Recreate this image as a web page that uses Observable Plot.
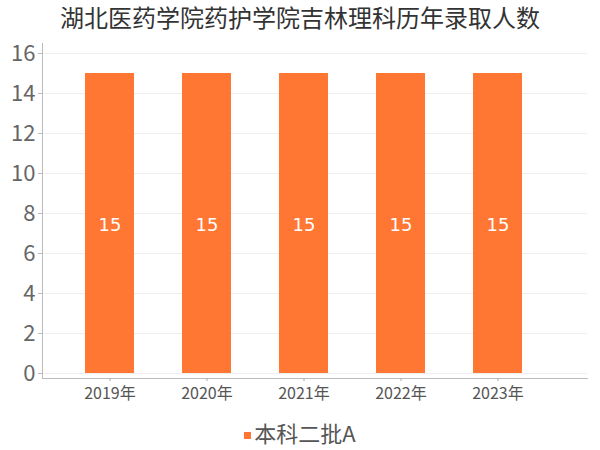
<!DOCTYPE html>
<html><head><meta charset="utf-8">
<script src="https://cdn.jsdelivr.net/npm/d3@7"></script>
<script src="https://cdn.jsdelivr.net/npm/@observablehq/plot@0.6"></script>
<style>
body{margin:0;background:#fff;font-family:"Noto Sans CJK SC",sans-serif;}
#wrap{width:600px;height:450px;position:relative;overflow:hidden;}
#title{height:36px;line-height:34px;text-align:center;font-size:24px;color:#333;}
#legend{position:absolute;top:417px;left:0;width:600px;text-align:center;font-size:22px;color:#555;line-height:30px;}
#legend .sw{display:inline-block;width:7px;height:7px;background:#ff7733;margin-right:3px;vertical-align:middle;position:relative;top:-1px;}
#chart{position:absolute;top:36px;left:0;}
</style></head>
<body><div id="wrap"><div id="title">湖北医药学院药护学院吉林理科历年录取人数</div><div id="chart"></div><div id="legend"><span class="sw"></span>本科二批A</div></div>
<script>
const years = ["2019年","2020年","2021年","2022年","2023年"];
const counts = [15,15,15,15,15];
const series = "本科二批A";
const yTicks = [0,2,4,6,8,10,12,14,16];
const data = years.map((y,i)=>({year:y, value:counts[i], series}));
const chart = Plot.plot({
  width:600, height:380,
  marginLeft:42, marginRight:13, marginTop:7, marginBottom:38,
  style:{fontFamily:"'Noto Sans CJK SC',sans-serif", background:"transparent"},
  x:{domain:years, range:[59,547], paddingInner:0.5, paddingOuter:0.25, label:null},
  y:{domain:[0,16], range:[337,17], label:null},
  marks:[
    Plot.gridY(yTicks,{stroke:"#eeeeee", strokeOpacity:1}),
    Plot.frame({anchor:"left", stroke:"#bbb"}),
    Plot.frame({anchor:"bottom", stroke:"#bbb"}),
    Plot.axisY(yTicks,{tickSize:4, tickPadding:3, fontSize:22, color:"#666", stroke:"#bbb"}),
    Plot.axisX({tickSize:3, tickPadding:6, fontSize:16, color:"#555", stroke:"#aaa"}),
    Plot.barY(data,{x:"year", y:"value", fill:"#ff7733"}),
    Plot.text(data,{x:"year", y:d=>d.value/2, dy:2, text:d=>String(d.value), fill:"#fff", fontSize:18, fontFamily:"'DejaVu Sans',sans-serif"})
  ]
});
document.getElementById("chart").appendChild(chart);
</script></body></html>
